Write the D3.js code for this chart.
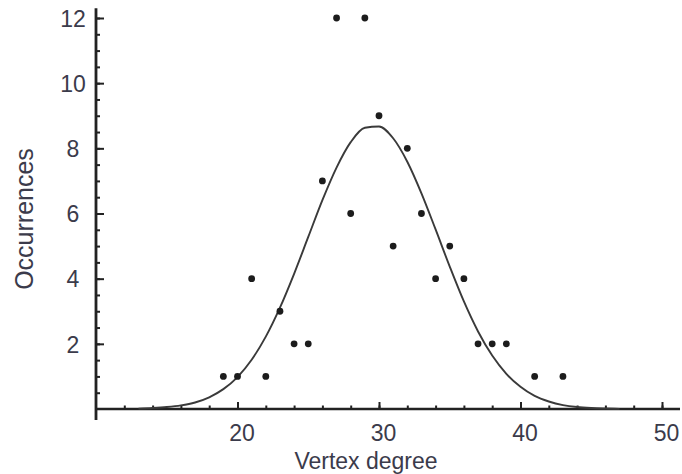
<!DOCTYPE html>
<html>
<head>
<meta charset="utf-8">
<script src="https://cdn.jsdelivr.net/npm/d3@7/dist/d3.min.js"></script>
<style>
  body { margin: 0; background: #fff; }
  svg text { font-family: "Liberation Sans", Arial, Helvetica, sans-serif; fill: #3b3b4b; }
</style>
</head>
<body>
<svg id="chart"></svg>
<script>
//////////data//////////
var degrees     = [19,20,21,22,23,24,25,26,27,28,29,30,31,32,33,34,35,36,37,38,39,41,43];
var occurrences = [ 1, 1, 4, 1, 3, 2, 2, 7,12, 6,12, 9, 5, 8, 6, 4, 5, 4, 2, 2, 2, 1, 1];

// fitted curve, sampled by eye at whole degrees
var curveX = [13,14,15,16,17,18,19,20,21,22,23,24,25,26,27,28,29,30,
              31,32,33,34,35,36,37,38,39,40,41,42,43,44,45,46,47];
var curveY = [0.01,0.03,0.06,0.11,0.2,0.36,0.61,0.98,1.51,2.22,3.11,4.15,5.28,6.41,7.41,8.19,8.63,8.67,
              8.31,7.59,6.62,5.51,4.37,3.3,2.38,1.64,1.08,0.68,0.4,0.23,0.12,0.06,0.03,0.015,0.005];

var xMajor = [20,30,40,50];
var yMajor = [2,4,6,8,10,12];

var screen = {
  width:682,
  height:474
}

var svg = d3.select("#chart")
            .attr("width",screen.width)
            .attr("height",screen.height)

var x = d3.scaleLinear()
          .domain([10,50])
          .range([96,662]);

var y = d3.scaleLinear()
          .domain([0,12])
          .range([409,18]);

//////////x axis//////////
var xMinor = svg.append("g")
                .attr("transform","translate(0," + y(0) + ")")
                .call(d3.axisBottom(x)
                        .tickValues(d3.range(12,51,2))
                        .tickSize(-3.5)
                        .tickFormat(""))

var xAxis = svg.append("g")
               .attr("transform","translate(0," + y(0) + ")")
               .call(d3.axisBottom(x)
                       .tickValues(xMajor)
                       .tickSize(-7)
                       .tickPadding(10))

xAxis.selectAll("text")
     .attr("dx",4)
     .attr("dy","0.95em")
     .style("font-size","23px")

//////////y axis//////////
var yMinor = svg.append("g")
                .attr("transform","translate(" + x(10) + ",0)")
                .call(d3.axisLeft(y)
                        .tickValues(d3.range(0.5,12.01,0.5))
                        .tickSize(-4)
                        .tickFormat(""))

var yAxis = svg.append("g")
               .attr("transform","translate(" + x(10) + ",0)")
               .call(d3.axisLeft(y)
                       .tickValues(yMajor)
                       .tickSize(-8))

yAxis.selectAll("text")
     .attr("x",-23)
     .attr("dy","0.36em")
     .style("text-anchor","middle")
     .style("font-size","23px")

svg.selectAll(".domain").remove();
svg.selectAll(".tick line")
   .attr("stroke","#222")
   .attr("stroke-width",2);

// axis lines, the x one runs off to the right edge
svg.append("line")
   .attr("x1",x(10))
   .attr("x2",screen.width - 2)
   .attr("y1",y(0))
   .attr("y2",y(0))
   .attr("stroke","#222")
   .attr("stroke-width",2.6)

svg.append("line")
   .attr("x1",x(10))
   .attr("x2",x(10))
   .attr("y1",y(12.3))
   .attr("y2",y(0) + 11)
   .attr("stroke","#222")
   .attr("stroke-width",2.8)

//////////fitted curve//////////
var line = d3.line()
             .x(function(d){ return x(d[0]); })
             .y(function(d){ return y(d[1]); })
             .curve(d3.curveMonotoneX);

svg.append("path")
   .datum(d3.zip(curveX,curveY))
   .attr("d",line)
   .attr("fill","none")
   .attr("stroke","#3a3a3a")
   .attr("stroke-width",1.9)

//////////points//////////
svg.append("g")
   .selectAll("circle")
   .data(d3.zip(degrees,occurrences))
   .enter()
   .append("circle")
   .attr("cx",function(d){ return x(d[0]); })
   .attr("cy",function(d){ return y(d[1]); })
   .attr("r",3.4)
   .attr("fill","#1c1c1c")

//////////axis titles//////////
svg.append("text")
   .attr("x",366)
   .attr("y",469)
   .style("text-anchor","middle")
   .style("font-size","23px")
   .text("Vertex degree")

svg.append("text")
   .attr("transform","translate(33,219) rotate(-90)")
   .style("text-anchor","middle")
   .style("font-size","25px")
   .text("Occurrences")
</script>
</body>
</html>
